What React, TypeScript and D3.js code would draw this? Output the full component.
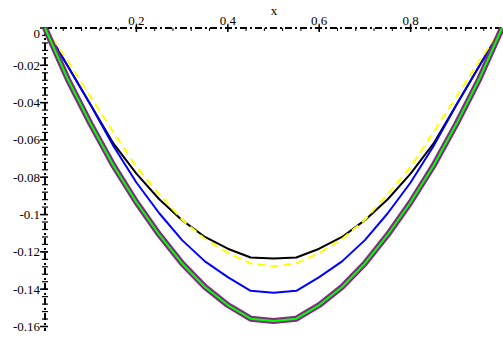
import React, { useEffect, useRef } from 'react';
import * as d3 from 'd3';

// x positions of the sampled points
const xValues = [0, 0.05, 0.1, 0.15, 0.2, 0.25, 0.3, 0.35, 0.4, 0.45, 0.5,
  0.55, 0.6, 0.65, 0.7, 0.75, 0.8, 0.85, 0.9, 0.95, 1];

// green curve (drawn over the thick purple one)
const greenValues = [0, -0.0275, -0.0515, -0.0738, -0.0934, -0.1108, -0.1262, -0.1388, -0.1485, -0.1558, -0.157,
  -0.1558, -0.1485, -0.1388, -0.1262, -0.1108, -0.0934, -0.0738, -0.0515, -0.0275, 0];
const blueValues = [0, -0.0205, -0.0413, -0.0634, -0.0828, -0.0993, -0.1137, -0.1251, -0.1335, -0.1409, -0.1419,
  -0.1409, -0.1335, -0.1251, -0.1137, -0.0993, -0.0828, -0.0634, -0.0413, -0.0205, 0];
const blackValues = [0, -0.0205, -0.0413, -0.062, -0.0781, -0.0918, -0.103, -0.112, -0.1183, -0.123, -0.1236,
  -0.123, -0.1183, -0.112, -0.103, -0.0918, -0.0781, -0.062, -0.0413, -0.0205, 0];
const yellowValues = [0, -0.0178, -0.037, -0.0559, -0.0745, -0.089, -0.1028, -0.1131, -0.1206, -0.1262, -0.1277,
  -0.1262, -0.1206, -0.1131, -0.1028, -0.089, -0.0745, -0.0559, -0.037, -0.0178, 0];

const xTicks = [0.2, 0.4, 0.6, 0.8];
const yTicks = [0, -0.02, -0.04, -0.06, -0.08, -0.1, -0.12, -0.14, -0.16];

export default function App() {
  const ref = useRef<SVGSVGElement>(null);

  useEffect(() => {
    const width = 503;
    const height = 339;
    const svg = d3.select(ref.current);
    svg.selectAll('*').remove();

    const xScale = d3.scaleLinear().domain([0, 1]).range([45, 502]);
    const yScale = d3.scaleLinear().domain([-0.16, 0]).range([326.5, 28]);
    const x0 = xScale(0);
    const y0 = yScale(0);
    const font = '"Liberation Serif", "DejaVu Serif", serif';
    const dash = '7,3,2,3';

    // x axis along y = 0
    svg.append('line')
      .attr('x1', x0).attr('x2', width)
      .attr('y1', y0).attr('y2', y0)
      .attr('stroke', '#000').attr('stroke-width', 2)
      .attr('stroke-dasharray', dash);

    const xMinor = d3.range(1, 25).map(i => i * 0.04);
    svg.append('g').selectAll('line')
      .data(xMinor)
      .join('line')
      .attr('x1', d => xScale(d)).attr('x2', d => xScale(d))
      .attr('y1', y0).attr('y2', y0 + 3)
      .attr('stroke', '#000').attr('stroke-width', 1);

    svg.append('g').selectAll('line')
      .data(xTicks)
      .join('line')
      .attr('x1', d => xScale(d)).attr('x2', d => xScale(d))
      .attr('y1', y0 - 3).attr('y2', y0 + 4)
      .attr('stroke', '#000').attr('stroke-width', 1.5);

    svg.append('g').selectAll('text')
      .data(xTicks)
      .join('text')
      .attr('x', d => xScale(d))
      .attr('y', y0 - 3)
      .attr('text-anchor', 'middle')
      .attr('font-family', font)
      .attr('font-size', 13)
      .text(d => String(d));

    svg.append('text')
      .attr('x', 274).attr('y', 15)
      .attr('text-anchor', 'middle')
      .attr('font-family', font)
      .attr('font-size', 13)
      .text('x');

    // y axis along x = 0
    svg.append('line')
      .attr('x1', x0).attr('x2', x0)
      .attr('y1', y0).attr('y2', 331)
      .attr('stroke', '#000').attr('stroke-width', 2)
      .attr('stroke-dasharray', dash);

    const yMinor = d3.range(1, 41).map(i => -i * 0.004);
    svg.append('g').selectAll('line')
      .data(yMinor)
      .join('line')
      .attr('x1', x0 - 3).attr('x2', x0 + 3)
      .attr('y1', d => yScale(d)).attr('y2', d => yScale(d))
      .attr('stroke', '#000').attr('stroke-width', 1.2);

    svg.append('g').selectAll('line')
      .data(yTicks)
      .join('line')
      .attr('x1', x0 - 5).attr('x2', x0 + 3)
      .attr('y1', d => yScale(d)).attr('y2', d => yScale(d))
      .attr('stroke', '#000').attr('stroke-width', 1.5);

    svg.append('g').selectAll('text')
      .data(yTicks)
      .join('text')
      .attr('x', 40)
      .attr('y', d => (d === 0 ? yScale(d) + 10 : yScale(d) + 4.5))
      .attr('text-anchor', 'end')
      .attr('font-family', font)
      .attr('font-size', 13)
      .text(d => String(d));

    // curves
    const line = d3.line<number>()
      .x((d, i) => xScale(xValues[i]))
      .y(d => yScale(d));

    const curves = [
      { values: blackValues, color: '#000000', w: 2, dash: null },
      { values: blueValues, color: '#0000ff', w: 2, dash: null },
      { values: yellowValues, color: '#ffff00', w: 2, dash: '8,5' },
      { values: greenValues, color: '#802a80', w: 6, dash: null },
      { values: greenValues, color: '#00ff00', w: 2, dash: null },
    ];

    curves.forEach(c => {
      svg.append('path')
        .datum(c.values)
        .attr('fill', 'none')
        .attr('stroke', c.color)
        .attr('stroke-width', c.w)
        .attr('stroke-linejoin', 'round')
        .attr('stroke-dasharray', c.dash)
        .attr('d', line);
    });

    svg.attr('width', width).attr('height', height);
  }, []);

  return (
    <svg
      ref={ref}
      width={503}
      height={339}
      style={{ position: 'absolute', left: 0, top: 0, background: '#fff' }}
    />
  );
}
